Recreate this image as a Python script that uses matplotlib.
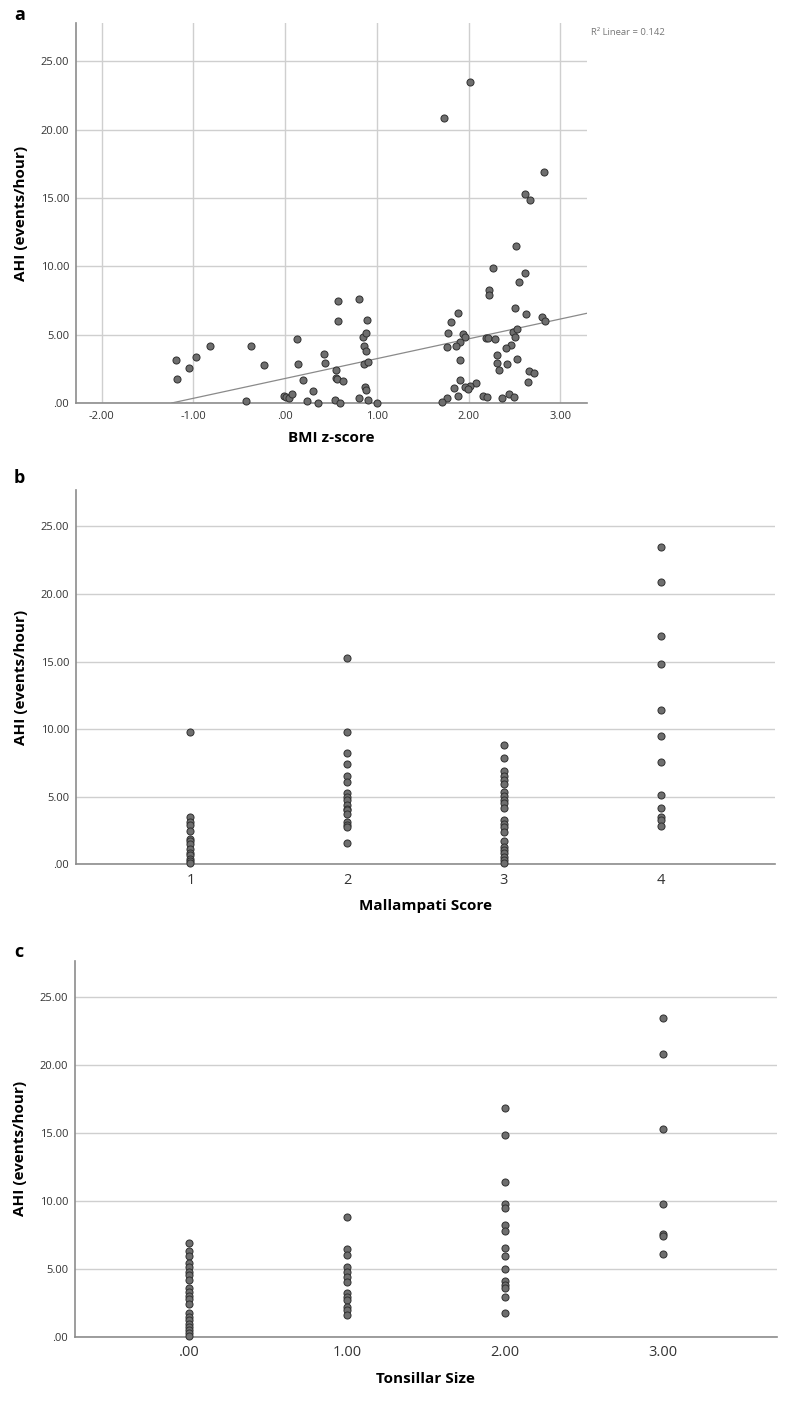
"""AHI vs BMI z-score, Mallampati score and tonsillar size (three stacked panels)."""

import matplotlib
matplotlib.use("Agg")
import matplotlib.pyplot as plt

plt.rcParams["font.family"] = ["Open Sans", "DejaVu Sans"]

# panel a: BMI z-score vs AHI
bmi_z = [-1.19, -1.18, -1.05, -0.97, -0.82, -0.43, -0.37, -0.23, -0.01, 0.01,
         0.04, 0.07, 0.13, 0.14, 0.20, 0.24, 0.30, 0.36, 0.42, 0.44,
         0.54, 0.56, 0.56, 0.57, 0.58, 0.58, 0.60, 0.63, 0.80, 0.81,
         0.85, 0.86, 0.86, 0.87, 0.88, 0.88, 0.88, 0.89, 0.90, 0.90,
         1.00,
         1.73, 2.02, 2.82, 2.62, 2.67, 2.52, 2.27, 2.61, 2.55,
         2.22, 2.22, 2.51, 1.88, 2.63, 2.80, 2.83, 1.81, 1.78, 1.94,
         1.96, 2.48, 2.53, 1.91, 1.86, 1.76, 2.19, 2.21, 2.29, 2.51,
         2.46, 2.41, 2.31, 1.91, 2.53, 2.31, 2.42, 2.33, 2.66, 2.71,
         2.65, 1.91, 2.08, 2.02, 1.96, 1.99, 1.84, 1.88, 1.77, 1.71,
         2.16, 2.20, 2.36, 2.44, 2.49]
ahi_bmi = [3.17, 1.78, 2.58, 3.34, 4.14, 0.17, 4.14, 2.80, 0.49, 0.41,
           0.34, 0.66, 4.68, 2.85, 1.71, 0.17, 0.88, 0.00, 3.58, 2.95,
           0.22, 2.44, 1.80, 1.78, 7.48, 5.99, 0.02, 1.63, 7.58, 0.37,
           4.80, 4.17, 2.88, 1.19, 0.97, 5.09, 3.78, 6.09, 3.02, 0.19,
           0.00,
           20.88, 23.49, 16.91, 15.30, 14.86, 11.45, 9.84, 9.48, 8.85,
           8.28, 7.87, 6.92, 6.55, 6.48, 6.31, 6.02, 5.95, 5.14, 5.07,
           4.82, 5.21, 5.39, 4.46, 4.14, 4.09, 4.75, 4.78, 4.65, 4.80,
           4.22, 4.02, 3.53, 3.17, 3.22, 2.92, 2.85, 2.44, 2.36, 2.17,
           1.54, 1.66, 1.44, 1.24, 1.19, 1.05, 1.10, 0.54, 0.37, 0.05,
           0.54, 0.46, 0.34, 0.66, 0.44]
fit_intercept = 1.79
fit_slope = 1.45
r2_text = "R\u00b2 Linear = 0.142"

# panel b: Mallampati score vs AHI
mallampati = {
    1: [9.81, 3.53, 3.16, 2.87, 2.47, 1.85, 1.73, 1.48, 1.11, 0.86, 0.67,
        0.42, 0.25, 0.07],
    2: [15.27, 9.81, 8.25, 7.44, 6.55, 6.10, 5.26, 4.97, 4.72, 4.40, 4.08,
        3.98, 3.73, 3.16, 2.87, 2.72, 1.58],
    3: [8.85, 7.86, 6.89, 6.55, 6.25, 5.96, 5.34, 5.02, 4.77, 4.52, 4.13,
        3.24, 2.97, 2.72, 2.35, 1.75, 1.26, 1.06, 0.82, 0.52, 0.32, 0.07],
    4: [23.47, 20.86, 16.90, 14.85, 11.44, 9.46, 7.54, 5.09, 4.13, 3.53,
        3.24, 2.84],
}

# panel c: tonsillar size vs AHI
tonsils = {
    0: [6.90, 6.34, 5.97, 5.43, 5.14, 4.82, 4.57, 4.20, 3.59, 3.34, 3.05,
        2.78, 2.43, 1.74, 1.50, 1.25, 0.93, 0.71, 0.52, 0.27, 0.07],
    1: [8.85, 6.49, 6.02, 5.14, 4.82, 4.45, 4.08, 3.22, 2.97, 2.73, 2.24,
        1.99, 1.62],
    2: [16.88, 14.86, 11.43, 9.83, 9.48, 8.23, 7.84, 6.54, 6.00, 5.01, 4.15,
        3.83, 3.59, 2.97, 1.79],
    3: [23.49, 20.86, 15.28, 9.83, 7.57, 7.44, 6.09],
}

y_ticks = [0, 5, 10, 15, 20, 25]
y_ticklabels = [".00", "5.00", "10.00", "15.00", "20.00", "25.00"]

GRID = "#cfcfcf"
SPINE = "#8c8c8c"
FACE = "#6e6e6e"
EDGE = "#303030"


def style_axes(ax, vgrid=False):
    for side in ("top", "right"):
        ax.spines[side].set_visible(False)
    for side in ("left", "bottom"):
        ax.spines[side].set_color(SPINE)
        ax.spines[side].set_linewidth(1.2)
    ax.set_yticks(y_ticks)
    ax.set_yticklabels(y_ticklabels)
    ax.tick_params(length=0, colors="#333333")
    ax.tick_params(axis="y", labelsize=8, pad=5)
    ax.yaxis.grid(True, color=GRID, linewidth=1.0)
    if vgrid:
        ax.xaxis.grid(True, color=GRID, linewidth=1.0)
    else:
        ax.xaxis.grid(False)
    ax.set_axisbelow(True)
    ax.set_ylabel("AHI (events/hour)", fontsize=11, fontweight="bold",
                  labelpad=9)


def scatter(ax, x, y):
    ax.scatter(x, y, s=26, facecolor=FACE, edgecolor=EDGE, linewidths=0.7,
               zorder=3, clip_on=False)


fig = plt.figure(figsize=(7.92, 14.03), dpi=100)

# --- panel a
ax_a = fig.add_axes([0.096, 0.7128, 0.645, 0.2708])
scatter(ax_a, bmi_z, ahi_bmi)
ax_a.set_xlim(-2.28, 3.29)
ax_a.set_ylim(0, 27.8)
x0 = -fit_intercept / fit_slope
x1 = 3.29
ax_a.plot([x0, x1], [fit_intercept + fit_slope * x0, fit_intercept + fit_slope * x1],
          color="#8a8a8a", linewidth=0.9, zorder=2)
style_axes(ax_a, vgrid=True)
ax_a.set_xticks([-2, -1, 0, 1, 2, 3])
ax_a.set_xticklabels(["-2.00", "-1.00", ".00", "1.00", "2.00", "3.00"])
ax_a.tick_params(axis="x", labelsize=8, pad=6)
ax_a.set_xlabel("BMI z-score", fontsize=11, fontweight="bold", labelpad=6)
fig.text(0.746, 0.977, r2_text, fontsize=6.8, color="#777777", va="center")

# --- panel b
ax_b = fig.add_axes([0.096, 0.3840, 0.8826, 0.2668])
for cat, vals in mallampati.items():
    scatter(ax_b, [cat] * len(vals), vals)
ax_b.set_xlim(0.27, 4.73)
ax_b.set_ylim(0, 27.7)
style_axes(ax_b)
ax_b.set_xticks(list(mallampati.keys()))
ax_b.set_xticklabels([str(k) for k in mallampati.keys()])
ax_b.tick_params(axis="x", labelsize=10.5, pad=6)
ax_b.set_xlabel("Mallampati Score", fontsize=11, fontweight="bold", labelpad=8)

# --- panel c
ax_c = fig.add_axes([0.0947, 0.0470, 0.886, 0.2682])
for cat, vals in tonsils.items():
    scatter(ax_c, [cat] * len(vals), vals)
ax_c.set_xlim(-0.72, 3.72)
ax_c.set_ylim(0, 27.7)
style_axes(ax_c)
ax_c.set_xticks(list(tonsils.keys()))
ax_c.set_xticklabels([".00", "1.00", "2.00", "3.00"])
ax_c.tick_params(axis="x", labelsize=10.5, pad=6)
ax_c.set_xlabel("Tonsillar Size", fontsize=11, fontweight="bold", labelpad=8)

# panel letters
for label, ypix in (("a", 15), ("b", 478), ("c", 952)):
    fig.text(14 / 792, 1 - ypix / 1403, label, fontsize=13, fontweight="bold",
             va="center", ha="left")

fig.savefig("out.png", dpi=100)
plt.close(fig)
